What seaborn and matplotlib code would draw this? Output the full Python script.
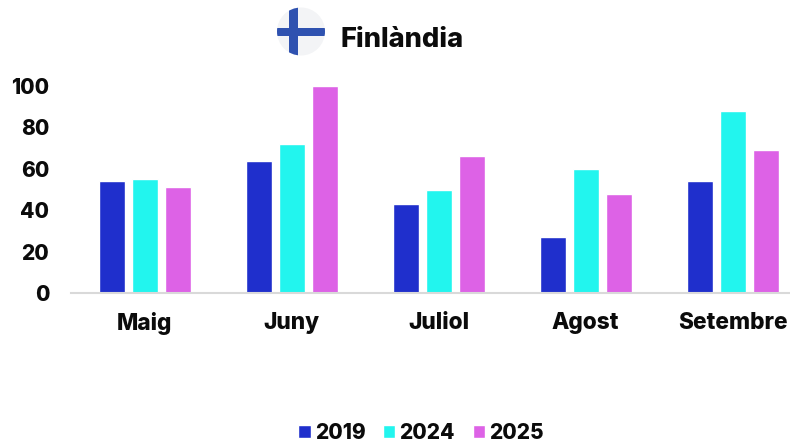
import matplotlib
matplotlib.use("Agg")
import matplotlib.pyplot as plt
import seaborn as sns
import pandas as pd
from matplotlib.patches import Circle, Rectangle

months = ["Maig", "Juny", "Juliol", "Agost", "Setembre"]
v2019 = [54, 64, 43, 27, 54]
v2024 = [55, 72, 50, 60, 88]
v2025 = [51, 100, 66, 48, 69]
years = ["2019", "2024", "2025"]
colors = ["#1f2fcc", "#22f5ee", "#dd62e6"]
title = "Finlàndia"

df = pd.DataFrame({
    "mes": months * 3,
    "any": [y for y in years for _ in months],
    "valor": v2019 + v2024 + v2025,
})

sns.set_theme(style="white")
plt.rcParams["font.family"] = ["Inter", "DejaVu Sans"]

W, H = 790, 442
fig = plt.figure(figsize=(W / 100, H / 100), dpi=100)
ax = fig.add_axes([71.2 / W, 1 - 293 / H, (W - 71.2) / W, 207 / H])
sns.barplot(data=df, x="mes", y="valor", hue="any", palette=colors,
            width=0.673, gap=0.21, saturation=1, ax=ax, legend=True)
ax.set_xlim(-0.5, (W - 144.7) / 147)
ax.set_ylim(0, 100)
ax.set_yticks([0, 20, 40, 60, 80, 100])
ax.set_xlabel("")
ax.set_ylabel("")
for s in ["top", "right", "left"]:
    ax.spines[s].set_visible(False)
ax.spines["bottom"].set_color("#d9d9d9")
ax.spines["bottom"].set_linewidth(1.5)
ax.tick_params(axis="both", length=0)
ax.tick_params(axis="y", pad=15.8, labelsize=15)
ax.tick_params(axis="x", pad=14, labelsize=16.3)
for t in ax.get_xticklabels() + ax.get_yticklabels():
    t.set_fontweight(800)
    t.set_color("#0b0b0b")

handles, labels = ax.get_legend_handles_labels()
ax.get_legend().remove()
fig.legend(handles, labels, loc="center", bbox_to_anchor=(421 / W, 1 - 433.2 / H), ncol=3,
           frameon=False, handlelength=0.58, handleheight=0.6, handletextpad=0.2,
           columnspacing=0.85, prop={"size": 15, "weight": 800}, labelcolor="#0b0b0b")

# title with round flag, placed in pixel coordinates
over = fig.add_axes([0, 0, 1, 1], facecolor="none")
over.set_xlim(0, W)
over.set_ylim(H, 0)
over.axis("off")
disc = Circle((301, 31.5), 24, facecolor="#f3f4f6", edgecolor="none")
over.add_patch(disc)
for r in [Rectangle((277, 27.5), 48, 8.5, facecolor="#2f52b0", edgecolor="none"),
          Rectangle((289, 7), 8.5, 49, facecolor="#2f52b0", edgecolor="none")]:
    over.add_patch(r)
    r.set_clip_path(disc)
over.text(341, 40, title, fontsize=19.7, fontweight=800, color="#0b0b0b",
          ha="left", va="center")

fig.savefig("out.png", dpi=100)
